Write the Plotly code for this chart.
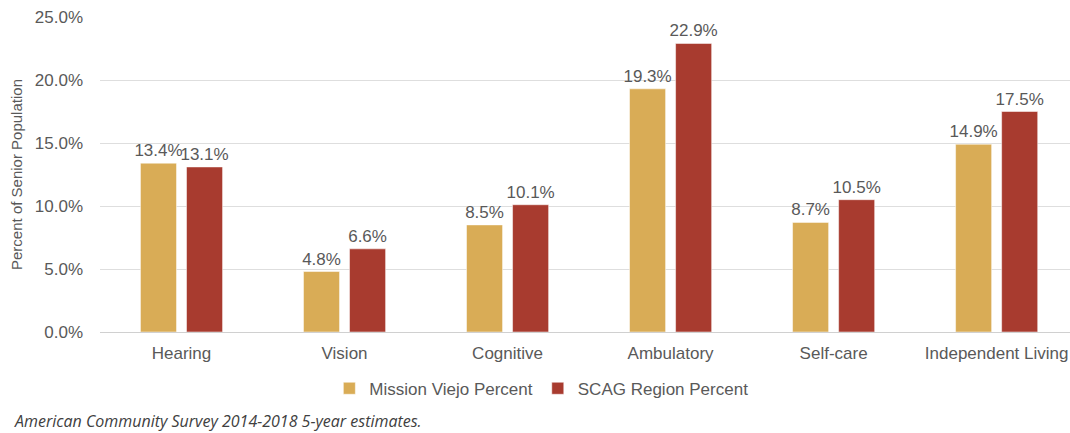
import plotly.graph_objects as go

categorias = ["Hearing", "Vision", "Cognitive", "Ambulatory", "Self-care", "Independent Living"]
mission_viejo = [13.4, 4.8, 8.5, 19.3, 8.7, 14.9]
scag = [13.1, 6.6, 10.1, 22.9, 10.5, 17.5]
y_ticks = [0, 5, 10, 15, 20, 25]

OURO = "#D9AC56"
VERMELHO = "#A83B2F"
CINZA = "#595959"
FONTE = "Liberation Sans"

fig = go.Figure()

for nome, valores, cor in [
    ("Mission Viejo Percent", mission_viejo, OURO),
    ("SCAG Region Percent", scag, VERMELHO),
]:
    fig.add_trace(
        go.Bar(
            x=categorias,
            y=valores,
            name=nome,
            marker_color=cor,
            text=[f"{v:.1f}%" for v in valores],
            textposition="outside",
            textfont={"size": 17, "color": CINZA, "family": FONTE},
            constraintext="none",
            cliponaxis=False,
        )
    )

fig.update_layout(
    width=1070,
    height=433,
    template="plotly_white",
    barmode="group",
    bargap=0.435,
    bargroupgap=0.217,
    margin={"l": 100, "r": 0, "t": 17, "b": 101},
    font={"family": FONTE, "size": 17, "color": CINZA},
    plot_bgcolor="white",
    paper_bgcolor="white",
    showlegend=True,
    legend={
        "orientation": "h",
        "x": 0.455,
        "xanchor": "center",
        "y": -0.18,
        "yanchor": "middle",
        "font": {"size": 17, "color": CINZA},
    },
    xaxis={
        "range": [-0.5, 5.45],
        "automargin": False,
        "showgrid": False,
        "showline": True,
        "linecolor": "#d0d0d0",
        "linewidth": 1,
        "ticks": "",
        "ticklabelstandoff": 6,
        "tickfont": {"size": 17, "color": CINZA},
    },
    yaxis={
        "range": [0, 25],
        "automargin": False,
        "tickvals": y_ticks,
        "ticktext": [f"{v:.1f}%" for v in y_ticks],
        "gridcolor": "#dedede",
        "zeroline": False,
        "ticklabelstandoff": 16,
        "tickfont": {"size": 17, "color": CINZA},
        "title": {"text": "Percent of Senior Population", "font": {"size": 15, "color": CINZA}, "standoff": 8},
    },
    annotations=[
        {
            "text": "<i>American Community Survey 2014-2018 5-year estimates.</i>",
            "xref": "paper",
            "yref": "paper",
            "x": -0.091,
            "y": -0.284,
            "xanchor": "left",
            "yanchor": "middle",
            "showarrow": False,
            "font": {"size": 16, "color": "#404040", "family": "Open Sans"},
        }
    ],
)

fig.write_html(
    "out.html",
    config={"displayModeBar": False},
    post_script="document.body.style.margin = '0';",
)
